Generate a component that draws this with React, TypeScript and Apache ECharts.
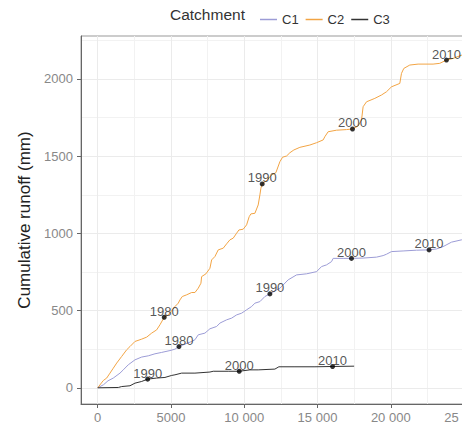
import React, { useEffect, useRef } from "react";
import * as echarts from "echarts";

// ---- data (cumulative rainfall x, cumulative runoff y) ----
const catchments = ["C1", "C2", "C3"];

const c1X = [0, 400, 700, 1064, 1521, 1746, 2087, 2544, 3001, 3451, 3908, 4365, 4931, 5272, 5545, 5838, 6411, 6636, 6861, 7318, 7659, 8116, 8341, 8798, 9139, 9480, 9821, 10162, 10503, 10728, 11069, 11410, 11750, 12208, 12433, 12658, 12999, 13572, 14254, 14936, 15277, 15618, 15959, 16068, 16750, 17320, 18114, 19028, 19478, 19710, 20051, 20842, 21756, 22615, 23120, 23570, 24143, 24825, 25300];
const c1Y = [0, 20, 45, 63, 95, 116, 149, 181, 199, 207, 220, 229, 241, 250, 267, 278, 300, 311, 343, 354, 382, 397, 419, 440, 451, 472, 483, 505, 526, 548, 558, 591, 608, 634, 645, 666, 699, 731, 738, 752, 785, 796, 817, 838, 838, 838, 840, 846, 856, 865, 882, 886, 891, 893, 899, 914, 943, 958, 965];

const c2X = [0, 382, 614, 839, 1064, 1296, 1637, 1978, 2203, 2544, 3001, 3342, 3683, 4024, 4249, 4540, 4815, 5272, 5497, 5613, 5770, 6070, 6411, 6636, 6861, 7045, 7093, 7386, 7659, 7775, 8000, 8225, 8566, 8798, 9023, 9248, 9480, 9637, 9930, 10162, 10339, 10455, 10728, 10953, 11069, 11137, 11226, 11567, 11867, 12160, 12433, 12617, 12890, 13115, 13388, 13797, 14479, 14936, 15386, 15502, 15727, 16300, 16982, 17391, 17773, 18005, 18114, 18346, 18912, 19369, 19710, 20051, 20617, 20733, 20890, 21299, 21865, 22888, 23345, 23802, 24252, 24845, 25300];
const c2Y = [0, 47, 63, 95, 127, 160, 203, 246, 267, 300, 315, 328, 354, 375, 408, 457, 472, 526, 548, 569, 591, 602, 617, 617, 645, 677, 720, 738, 774, 828, 850, 893, 904, 932, 958, 969, 1001, 1022, 1027, 1055, 1108, 1126, 1130, 1184, 1249, 1292, 1320, 1346, 1378, 1393, 1464, 1493, 1501, 1522, 1540, 1557, 1572, 1587, 1605, 1626, 1658, 1668, 1672, 1676, 1695, 1734, 1820, 1852, 1874, 1896, 1917, 1949, 1971, 2036, 2068, 2090, 2096, 2096, 2101, 2122, 2133, 2154, 2165];

const c3X = [0, 1405, 1637, 2203, 2544, 3001, 3410, 4024, 4590, 5047, 5272, 5729, 6636, 7659, 7884, 8907, 9660, 10387, 10953, 12092, 12365, 13463, 14827, 16027, 17500];
const c3Y = [0, 2, 8, 13, 30, 41, 56, 63, 67, 80, 84, 95, 95, 102, 107, 107, 107, 116, 116, 121, 136, 136, 136, 138, 140];

// year markers
const c1Years = [1980, 1990, 2000, 2010];
const c1YearX = [5545, 11750, 17320, 22615];
const c1YearY = [267, 608, 838, 893];
const c2Years = [1980, 1990, 2000, 2010];
const c2YearX = [4540, 11226, 17391, 23802];
const c2YearY = [457, 1320, 1676, 2122];
const c3Years = [1990, 2000, 2010];
const c3YearX = [3410, 9660, 16027];
const c3YearY = [56, 107, 138];

// axes
const xTicks = [0, 5000, 10000, 15000, 20000, 25000];
const xMinor = [2500, 7500, 12500, 17500, 22500];
const yTicks = [0, 500, 1000, 1500, 2000];
const yMinor = [250, 750, 1250, 1750, 2250];
const X_MIN = -1140;
const X_MAX = 26500;
const Y_MIN = -105;
const Y_MAX = 2278;

const colors = ["#9c9cd6", "#f2a444", "#333333"];
const FONT = '"Liberation Sans", Arial, sans-serif';

const zip = (xs: number[], ys: number[]) => xs.map((x, i) => [x, ys[i]]);
const zip3 = (xs: number[], ys: number[], ls: number[]) => xs.map((x, i) => [x, ys[i], ls[i]]);

const fmtX = (v: number) =>
  v >= 10000 ? String(v).replace(/\B(?=(\d{3})+(?!\d))/g, " ") : String(v);

const CHART_W = 500;

export default function App() {
  const ref = useRef<HTMLDivElement>(null);
  useEffect(() => {
    if (!ref.current) return;
    const chart = echarts.init(ref.current, undefined, { renderer: "svg" });
    const lineData = [zip(c1X, c1Y), zip(c2X, c2Y), zip(c3X, c3Y)];
    const yearData = [
      zip3(c1YearX, c1YearY, c1Years),
      zip3(c2YearX, c2YearY, c2Years),
      zip3(c3YearX, c3YearY, c3Years),
    ];
    const lineSeries = catchments.map((name, i) => ({
      name,
      type: "line",
      data: lineData[i],
      showSymbol: false,
      symbol: "none",
      color: colors[i],
      lineStyle: { color: colors[i], width: 1 },
      z: 3,
    }));
    const yearSeries = catchments.map((name, i) => ({
      name: name + " years",
      type: "scatter",
      data: yearData[i],
      symbolSize: 5,
      itemStyle: { color: "#000" },
      z: 4,
      label: {
        show: true,
        position: "top",
        distance: 0,
        offset: [0, 3],
        formatter: (p: any) => String(p.value[2]),
        color: "#2a2a2a",
        fontSize: 13,
        fontFamily: FONT,
      },
    }));
    chart.setOption({
      animation: false,
      backgroundColor: "#fff",
      grid: {
        left: 81,
        top: 36,
        right: CHART_W - 486,
        bottom: 26,
        show: true,
        borderColor: "#999",
        borderWidth: 1,
        backgroundColor: "transparent",
      },
      legend: {
        data: catchments,
        left: 255,
        top: 8,
        icon: "rect",
        itemWidth: 17,
        itemHeight: 1.5,
        itemGap: 7,
        textStyle: { fontSize: 13, color: "#333", fontFamily: FONT },
      },
      graphic: [
        {
          type: "text",
          left: 170,
          top: 6,
          style: { text: "Catchment", font: `15.5px ${FONT}`, fill: "#333" },
        },
      ],
      xAxis: [
        {
          type: "value",
          min: X_MIN,
          max: X_MAX,
          position: "bottom",
          axisLine: { show: true, onZero: false, lineStyle: { color: "#666", width: 1 } },
          axisTick: { show: true, length: 4, customValues: xTicks, lineStyle: { color: "#666" } },
          axisLabel: {
            customValues: xTicks,
            formatter: fmtX,
            color: "#888",
            fontSize: 13,
            margin: 7,
            fontFamily: FONT,
          },
          splitLine: { show: true, lineStyle: { color: "#ebebeb", width: 1 } },
          z: 1,
        },
        {
          type: "value",
          min: X_MIN,
          max: X_MAX,
          position: "top",
          axisLine: { show: false, onZero: false },
          axisTick: { show: false, customValues: xMinor },
          axisLabel: { show: false, customValues: xMinor },
          splitLine: { show: true, lineStyle: { color: "#f2f2f2", width: 1 } },
          z: 0,
        },
      ],
      yAxis: [
        {
          type: "value",
          min: Y_MIN,
          max: Y_MAX,
          position: "left",
          name: "Cumulative runoff (mm)",
          nameLocation: "middle",
          nameRotate: 90,
          nameGap: 37,
          nameTextStyle: { fontSize: 17, color: "#222", fontFamily: FONT },
          axisLine: { show: true, onZero: false, lineStyle: { color: "#666", width: 1 } },
          axisTick: { show: true, length: 4, customValues: yTicks, lineStyle: { color: "#666" } },
          axisLabel: {
            customValues: yTicks,
            formatter: (v: number) => String(v),
            color: "#888",
            fontSize: 13,
            margin: 8,
            fontFamily: FONT,
          },
          splitLine: { show: true, lineStyle: { color: "#ebebeb", width: 1 } },
          z: 1,
        },
        {
          type: "value",
          min: Y_MIN,
          max: Y_MAX,
          position: "right",
          axisLine: { show: false, onZero: false },
          axisTick: { show: false, customValues: yMinor },
          axisLabel: { show: false, customValues: yMinor },
          splitLine: { show: true, lineStyle: { color: "#f2f2f2", width: 1 } },
          z: 0,
        },
      ],
      series: [...lineSeries, ...yearSeries],
    });
    return () => chart.dispose();
  }, []);
  return (
    <div style={{ position: "fixed", left: 0, top: 0, width: 462, height: 430, overflow: "hidden" }}>
      <div ref={ref} style={{ width: CHART_W, height: 430 }} />
    </div>
  );
}
